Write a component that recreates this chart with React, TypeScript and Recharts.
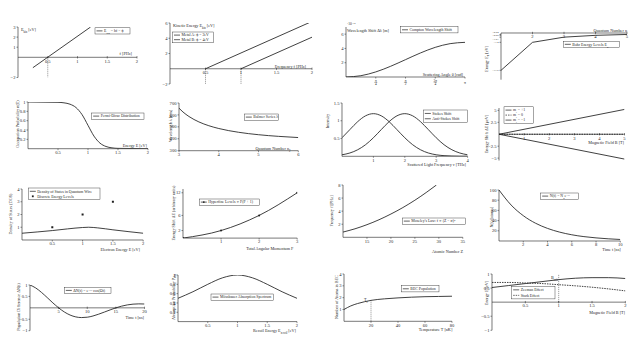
import type { ReactNode } from "react"
import {
  ComposedChart,
  Line,
  Scatter,
  XAxis,
  YAxis,
  ReferenceLine,
  ReferenceDot,
} from "recharts"

const FONT = '"Liberation Serif", "DejaVu Serif", serif'
const INK = "#1f1f1f"
const PAD = 16
const YW = 14
const XH = 9
const TICK_FS = 4.6
const LABEL_FS = 4.2
const LEGEND_FS = 3.9

// ---- data ----

// 1. photoelectric effect
const peFreq = [0.25, 1.22]
const peEnergy = [-1.03, 3.0]
const peXTicks = [0.5, 1, 1.5, 2]
const peYTicks = [-2, 1, 2, 3]

// 2. two metals
const metalAFreq = [0.5, 2]
const metalAEnergy = [0, 6.21]
const metalBFreq = [1, 2]
const metalBEnergy = [0, 4.14]
const metalXTicks = [0.5, 1, 1.5, 2]
const metalYTicks = [-2, 2, 4, 6]

// 3. compton shift (x in rad, y in 1e-12 m)
const comptonAngle = [0, 0.393, 0.785, 1.178, 1.571, 1.963, 2.356, 2.749, 3.1416]
const comptonShift = [0, 0.18, 0.71, 1.5, 2.43, 3.36, 4.15, 4.67, 4.85]
const comptonXTicks = [0.7854, 1.5708, 2.3562, 3.1416]
const comptonXLabels = [["π", "4"], ["π", "2"], ["3π", "4"], ["π", ""]]
const comptonYTicks = [2, 4, 6]

// 4. bohr levels
const bohrN = [1, 2, 3, 4, 5]
const bohrE = [-13.6, -3.4, -1.51, -0.85, -0.54]
const bohrXTicks = [2, 3, 4, 5]
const bohrYLabels = ["−13.6", "−3.4", "−1.51", "−0.85", "−0.54"]
// small vertical nudges so the crowded labels near 0 stay readable
const bohrLabelNudge = [0, 0, 2, 0, -2.7]

// 5. fermi-dirac
const fermiE = [0, 0.5, 0.6, 0.7, 0.8, 0.9, 1, 1.1, 1.2, 1.3, 1.4, 1.5, 2]
const fermiN = [1, 0.993, 0.982, 0.953, 0.881, 0.731, 0.5, 0.269, 0.119, 0.047, 0.018, 0.007, 0]
const fermiXTicks = [0.5, 1, 1.5, 2]
const fermiYTicks = [0.2, 0.4, 0.6, 0.8, 1]

// 6. balmer series
const balmerN = [3, 3.1, 3.25, 3.5, 3.75, 4, 4.5, 5, 5.5, 6]
const balmerLambda = [656.3, 624.6, 586.8, 541.4, 509.5, 486.1, 454.3, 434.0, 420.2, 410.2]
const balmerXTicks = [3, 4, 5, 6]
const balmerYTicks = [300, 400, 500, 600, 700]

// 7. raman
const ramanNu = [0, 0.25, 0.5, 0.75, 1, 1.25, 1.5, 1.75, 2, 2.25, 2.5, 2.75, 3, 3.25, 3.5, 3.75, 4]
const stokes = [0.522, 0.751, 0.975, 1.139, 1.2, 1.139, 0.975, 0.751, 0.522, 0.326, 0.184, 0.093, 0.043, 0.018, 0.007, 0.002, 0.001]
const antiStokes = [0.043, 0.093, 0.184, 0.326, 0.522, 0.751, 0.975, 1.139, 1.2, 1.139, 0.975, 0.751, 0.522, 0.326, 0.184, 0.093, 0.043]
const ramanXTicks = [1, 2, 3, 4]
const ramanYTicks = [0.5, 1, 1.5]

// 8. zeeman splitting
const zeemanB = [0, 5]
const zeemanPlus = [0, 5.2]
const zeemanZero = [0, 0]
const zeemanMinus = [0, -5.2]
const zeemanXTicks = [1, 2, 3, 4, 5]
const zeemanYTicks = [-5, -2.5, 2.5, 5]

// 9. quantum wire DOS
const dosE = [0, 0.25, 0.5, 0.75, 1, 1.1, 1.25, 1.5, 1.75, 2]
const dosValue = [0.53, 0.63, 0.74, 0.87, 0.98, 1.0, 0.95, 0.8, 0.66, 0.53]
const levelE = [0.5, 1, 1.5]
const levelDos = [1, 2, 3]
const dosXTicks = [0.5, 1, 1.5, 2]
const dosYTicks = [1, 2, 3, 4]

// 10. hyperfine
const hfF = [0, 1, 2, 3]
const hfE = [0, 2, 6, 12]
const hfXTicks = [1, 2, 3]
const hfYTicks = [2, 6, 12]

// 11. moseley
const moseleyZ = [10, 12.5, 15, 17.5, 20, 22.5, 25, 27.5, 29.5]
const moseleyF = [0.8, 1.3, 1.93, 2.68, 3.56, 4.55, 5.67, 6.92, 8.0]
const moseleyXTicks = [15, 20, 25, 30, 35]
const moseleyYTicks = [2, 4, 6, 8]

// 12. decay
const decayT = [0, 1, 2, 3, 4, 5, 6, 7, 8, 9, 10]
const decayN = [100, 70.5, 49.7, 35.0, 24.7, 17.4, 12.2, 8.6, 6.1, 4.3, 3.0]
const decayXTicks = [2, 4, 6, 8, 10]
const decayYTicks = [20, 40, 60, 80, 100]

// 13. rabi oscillation
const rabiT = [0, 1, 2, 3, 4, 5, 6, 7, 8, 9, 10, 11, 12, 13, 14, 15, 16, 17, 18, 19, 20]
const rabiDN = [1, 0.87, 0.677, 0.45, 0.216, 0, -0.181, -0.315, -0.396, -0.426, -0.41, -0.357, -0.277, -0.184, -0.089, 0, 0.074, 0.129, 0.162, 0.174, 0.168]
const rabiXTicks = [5, 10, 15, 20]
const rabiYTicks = [-1, -0.5, 0.5, 1]

// 14. mossbauer
const mossE = [0, 0.25, 0.5, 0.75, 1, 1.25, 1.5, 1.75, 2]
const mossP = [0.5, 0.64, 0.8, 0.94, 1, 0.94, 0.8, 0.64, 0.5]
const mossXTicks = [0.5, 1, 1.5, 2]
const mossYTicks = [0.2, 0.4, 0.6, 0.8, 1]

// 15. BEC
const becT = [0, 5, 10, 15, 20, 30, 40, 50, 60, 70, 80]
const becN = [1.0, 1.3, 1.5, 1.65, 1.77, 1.9, 1.98, 2.04, 2.08, 2.1, 2.12]
const becTc = 20
const becXTicks = [20, 40, 60, 80]
const becYTicks = [1, 2, 3, 4]

// 16. zeeman vs stark
const fieldB = [0, 0.25, 0.5, 0.75, 1, 1.25, 1.5, 1.75, 2]
const zeemanE = [0.52, 0.59, 0.66, 0.73, 0.8, 0.85, 0.87, 0.87, 0.84]
const starkE = [0.7, 0.7, 0.68, 0.66, 0.62, 0.58, 0.53, 0.47, 0.4]
const bCrit = 1
const fieldXTicks = [0.5, 1, 1.5, 2]
const fieldYTicks = [-1, -0.5, 0.5, 1]

type Pt = { x: number; y: number }
const zip = (xs: number[], ys: number[]): Pt[] => xs.map((x, i) => ({ x, y: ys[i] }))
const minus = (v: number) => String(v).replace("-", "−")

function midTick(label: string) {
  // eslint-disable-next-line @typescript-eslint/no-explicit-any
  return (p: any) => (
    <g>
      <line x1={p.cx} x2={p.cx} y1={p.cy - 1.2} y2={p.cy + 1.2} stroke={INK} strokeWidth={0.5} />
      <text x={p.cx} y={p.cy + 5.3} textAnchor="middle" fontSize={TICK_FS} fontFamily={FONT} fill={INK}>
        {label}
      </text>
    </g>
  )
}

// eslint-disable-next-line @typescript-eslint/no-explicit-any
function PiTick(props: any) {
  const { x, y, index } = props
  const [num, den] = comptonXLabels[index] ?? ["", ""]
  if (!den)
    return (
      <text x={x} y={y + 4.5} textAnchor="middle" fontSize={3.8} fontFamily={FONT} fill={INK}>
        {num}
      </text>
    )
  return (
    <g fontSize={3.4} fontFamily={FONT} fill={INK}>
      <text x={x} y={y + 2.6} textAnchor="middle">{num}</text>
      <line x1={x - 1.6} x2={x + 1.6} y1={y + 3.4} y2={y + 3.4} stroke={INK} strokeWidth={0.3} />
      <text x={x} y={y + 6.4} textAnchor="middle">{den}</text>
    </g>
  )
}

// eslint-disable-next-line @typescript-eslint/no-explicit-any
function BohrTick(props: any) {
  const { x, y, index } = props
  return (
    <text x={x} y={y + 1 + (bohrLabelNudge[index] ?? 0)} textAnchor="end" fontSize={2.7} fontFamily={FONT} fill={INK}>
      {bohrYLabels[index]}
    </text>
  )
}

interface PanelProps {
  box: [number, number, number, number]
  xDomain: [number, number]
  yDomain: [number, number]
  xTicks: number[]
  yTicks: number[]
  zeroAxis?: boolean
  xTick?: ReactNode
  yTick?: ReactNode
  children?: ReactNode
}

function Panel({ box, xDomain, yDomain, xTicks, yTicks, zeroAxis, xTick, yTick, children }: PanelProps) {
  const [x0, x1, y0, y1] = box
  return (
    <div style={{ position: "absolute", left: x0 - PAD, top: y0 - PAD }}>
      <ComposedChart
        width={x1 - x0 + 2 * PAD}
        height={y1 - y0 + 2 * PAD}
        margin={{ top: PAD, right: PAD, left: PAD - YW, bottom: zeroAxis ? PAD : PAD - XH }}
      >
        <XAxis
          type="number"
          dataKey="x"
          domain={xDomain}
          ticks={xTicks}
          interval={0}
          hide={zeroAxis}
          height={XH}
          allowDataOverflow
          tickSize={1.5}
          tickMargin={0.5}
          tickFormatter={minus}
          tick={xTick ?? { fontSize: TICK_FS, fill: INK, fontFamily: FONT }}
          axisLine={{ stroke: INK, strokeWidth: 0.6 }}
          tickLine={{ stroke: INK, strokeWidth: 0.5 }}
        />
        <YAxis
          type="number"
          dataKey="y"
          domain={yDomain}
          ticks={yTicks}
          interval={0}
          width={YW}
          allowDataOverflow
          tickSize={1.5}
          tickMargin={1}
          tickFormatter={minus}
          tick={yTick ?? { fontSize: TICK_FS, fill: INK, fontFamily: FONT }}
          axisLine={{ stroke: INK, strokeWidth: 0.6 }}
          tickLine={{ stroke: INK, strokeWidth: 0.5 }}
        />
        {zeroAxis && <ReferenceLine y={0} stroke={INK} strokeWidth={0.6} ifOverflow="visible" />}
        {zeroAxis &&
          xTicks.map((t) => (
            <ReferenceDot key={`t${t}`} x={t} y={0} r={0} ifOverflow="visible" shape={midTick(minus(t))} />
          ))}
        {children}
      </ComposedChart>
    </div>
  )
}

const curve = (
  key: string,
  data: Pt[],
  opts: { dash?: string; type?: "linear" | "monotone"; dot?: boolean; w?: number } = {}
) => (
  <Line
    key={key}
    data={data}
    dataKey="y"
    type={opts.type ?? "monotone"}
    stroke={INK}
    strokeWidth={opts.w ?? 0.85}
    strokeDasharray={opts.dash}
    dot={opts.dot ? { r: 1, fill: INK, stroke: "none" } : false}
    activeDot={false}
    isAnimationActive={false}
  />
)

const guide = (key: string, x: number, ya: number, yb: number) => (
  <ReferenceLine
    key={key}
    segment={[{ x, y: ya }, { x, y: yb }]}
    stroke={INK}
    strokeWidth={0.5}
    strokeDasharray="1 1"
    ifOverflow="visible"
  />
)

// eslint-disable-next-line @typescript-eslint/no-explicit-any
const squareShape = (p: any) => <rect x={p.cx - 1} y={p.cy - 1} width={2} height={2} fill={INK} />

const Sub = ({ children }: { children: ReactNode }) => (
  <tspan baselineShift="sub" fontSize="70%">{children}</tspan>
)
const Sup = ({ children }: { children: ReactNode }) => (
  <tspan baselineShift="super" fontSize="70%">{children}</tspan>
)

function Title({ x, y, end, children }: { x: number; y: number; end?: boolean; children: ReactNode }) {
  return (
    <text x={x} y={y} textAnchor={end ? "end" : "start"} fontSize={LABEL_FS} fontFamily={FONT} fill={INK}>
      {children}
    </text>
  )
}

function VTitle({ x, y, children }: { x: number; y: number; children: ReactNode }) {
  return (
    <text
      x={x}
      y={y}
      textAnchor="middle"
      dominantBaseline="central"
      fontSize={LABEL_FS}
      fontFamily={FONT}
      fill={INK}
      transform={`rotate(-90 ${x} ${y})`}
    >
      {children}
    </text>
  )
}

type LegendItem = { label: ReactNode; dash?: string; mark?: "dot" | "square"; noLine?: boolean }

function LegendBox({ x, y, w, items, rowH = 4.6 }: { x: number; y: number; w: number; items: LegendItem[]; rowH?: number }) {
  const h = items.length * rowH + 1.6
  return (
    <g>
      <rect x={x} y={y} width={w} height={h} fill="#fff" stroke={INK} strokeWidth={0.4} />
      {items.map((it, i) => {
        const cy = y + 0.8 + rowH * (i + 0.5)
        return (
          <g key={i}>
            {!it.noLine && (
              <line x1={x + 1.5} x2={x + 7.5} y1={cy} y2={cy} stroke={INK} strokeWidth={0.7} strokeDasharray={it.dash} />
            )}
            {it.mark === "dot" && <circle cx={x + 4.5} cy={cy} r={0.9} fill={INK} />}
            {it.mark === "square" && <rect x={x + 3.6} y={cy - 0.9} width={1.8} height={1.8} fill={INK} />}
            <text x={x + 9} y={cy + 1.3} fontSize={LEGEND_FS} fontFamily={FONT} fill={INK}>
              {it.label}
            </text>
          </g>
        )
      })}
    </g>
  )
}

export default function App() {
  return (
    <div style={{ position: "fixed", left: 0, top: 0, width: 639, height: 360, background: "#fff", overflow: "hidden" }}>
      {/* row 1 */}
      <Panel box={[18, 137, 26.7, 77.2]} xDomain={[0, 2]} yDomain={[-2, 3]} xTicks={peXTicks} yTicks={peYTicks} zeroAxis>
        {guide("g1", 0.5, 0, -2)}
        {curve("pe", zip(peFreq, peEnergy), { type: "linear" })}
      </Panel>
      <Panel box={[170, 312, 23, 84]} xDomain={[0, 2]} yDomain={[-2, 6]} xTicks={metalXTicks} yTicks={metalYTicks} zeroAxis>
        {guide("g2a", 0.5, 0, -2)}
        {guide("g2b", 1, 0, -2)}
        {curve("a", zip(metalAFreq, metalAEnergy), { type: "linear" })}
        {curve("b", zip(metalBFreq, metalBEnergy), { type: "linear" })}
      </Panel>
      <Panel
        box={[346, 465, 27, 77]}
        xDomain={[0, 3.1416]}
        yDomain={[0, 7]}
        xTicks={comptonXTicks}
        yTicks={comptonYTicks}
        xTick={<PiTick />}
      >
        {curve("c", zip(comptonAngle, comptonShift))}
      </Panel>
      <Panel
        box={[501, 627, 33.3, 80]}
        xDomain={[1, 5]}
        yDomain={[-17, 0]}
        xTicks={bohrXTicks}
        yTicks={bohrE}
        yTick={<BohrTick />}
        zeroAxis
      >
        {curve("bohr", zip(bohrN, bohrE), { type: "linear" })}
      </Panel>

      {/* row 2 */}
      <Panel box={[28.3, 148.3, 102, 148.7]} xDomain={[0, 2]} yDomain={[0, 1]} xTicks={fermiXTicks} yTicks={fermiYTicks}>
        {curve("fd", zip(fermiE, fermiN))}
      </Panel>
      <Panel box={[179, 298.3, 103, 150.7]} xDomain={[3, 6]} yDomain={[300, 700]} xTicks={balmerXTicks} yTicks={balmerYTicks}>
        {curve("balmer", zip(balmerN, balmerLambda))}
      </Panel>
      <Panel box={[341.7, 467.3, 103, 156.3]} xDomain={[0, 4]} yDomain={[0, 1.5]} xTicks={ramanXTicks} yTicks={ramanYTicks}>
        {curve("stokes", zip(ramanNu, stokes))}
        {curve("anti", zip(ramanNu, antiStokes))}
      </Panel>
      <Panel box={[498.5, 624, 107.6, 160.1]} xDomain={[0, 5]} yDomain={[-5.5, 5.5]} xTicks={zeemanXTicks} yTicks={zeemanYTicks} zeroAxis>
        {curve("zp", zip(zeemanB, zeemanPlus), { type: "linear" })}
        {curve("z0", zip(zeemanB, zeemanZero), { type: "linear", dash: "1.5 1" })}
        {curve("zm", zip(zeemanB, zeemanMinus), { type: "linear" })}
      </Panel>

      {/* row 3 */}
      <Panel box={[21.5, 142.7, 188.7, 239.7]} xDomain={[0, 2]} yDomain={[0, 4]} xTicks={dosXTicks} yTicks={dosYTicks}>
        {curve("dos", zip(dosE, dosValue))}
        <Scatter data={zip(levelE, levelDos)} dataKey="y" shape={squareShape} isAnimationActive={false} />
      </Panel>
      <Panel box={[182.5, 296.7, 189.2, 238.3]} xDomain={[0, 3]} yDomain={[0, 13]} xTicks={hfXTicks} yTicks={hfYTicks}>
        {curve("hf", zip(hfF, hfE), { dot: true })}
      </Panel>
      <Panel box={[342.5, 462.3, 185, 237.3]} xDomain={[10, 35]} yDomain={[0, 8]} xTicks={moseleyXTicks} yTicks={moseleyYTicks}>
        {curve("mos", zip(moseleyZ, moseleyF))}
      </Panel>
      <Panel box={[498.7, 620, 189.7, 240.7]} xDomain={[0, 10]} yDomain={[0, 100]} xTicks={decayXTicks} yTicks={decayYTicks}>
        {curve("decay", zip(decayT, decayN))}
      </Panel>

      {/* row 4 */}
      <Panel box={[29.5, 144, 285, 330.7]} xDomain={[0, 20]} yDomain={[-1, 1]} xTicks={rabiXTicks} yTicks={rabiYTicks} zeroAxis>
        {curve("rabi", zip(rabiT, rabiDN))}
      </Panel>
      <Panel box={[178.3, 297.3, 274.7, 321.3]} xDomain={[0, 2]} yDomain={[0, 1]} xTicks={mossXTicks} yTicks={mossYTicks}>
        {curve("moss", zip(mossE, mossP))}
      </Panel>
      <Panel box={[344.3, 452.3, 274, 321.3]} xDomain={[0, 80]} yDomain={[0, 4]} xTicks={becXTicks} yTicks={becYTicks}>
        {guide("tc", becTc, 0, 1.77)}
        {curve("bec", zip(becT, becN))}
      </Panel>
      <Panel box={[492.3, 625.7, 274, 330.3]} xDomain={[0, 2]} yDomain={[-1, 1]} xTicks={fieldXTicks} yTicks={fieldYTicks} zeroAxis>
        {guide("bc", bCrit, 0, 1)}
        {curve("zee", zip(fieldB, zeemanE))}
        {curve("stark", zip(fieldB, starkE), { dash: "1.5 1" })}
      </Panel>

      {/* titles and legends */}
      <svg width={639} height={360} style={{ position: "absolute", left: 0, top: 0, pointerEvents: "none" }}>
        {/* 1 */}
        <Title x={21} y={31}>E<Sub>kin</Sub> [eV]</Title>
        <Title x={132} y={55} end>f [PHz]</Title>
        <LegendBox x={95} y={27.8} w={35} items={[{ label: <>E<Sub>kin</Sub> = hf − ϕ</> }]} />
        {/* 2 */}
        <Title x={173} y={27}>Kinetic Energy E<Sub>kin</Sub> [eV]</Title>
        <Title x={306} y={68} end>Frequency f [PHz]</Title>
        <LegendBox x={172.5} y={32} w={41} items={[{ label: "Metal A: ϕ = 2eV" }, { label: "Metal B: ϕ = 4eV" }]} />
        {/* 3 */}
        <text x={347} y={24.5} fontSize={3.5} fontFamily={FONT} fill={INK}>
          ·10<Sup>−12</Sup>
        </text>
        <Title x={347} y={32}>Wavelength Shift Δλ [m]</Title>
        <Title x={463} y={75.8} end>Scattering Angle θ [rad]</Title>
        <LegendBox x={400.5} y={26.7} w={57.5} items={[{ label: "Compton Wavelength Shift" }]} />
        {/* 4 */}
        <Title x={627} y={31.5} end>Quantum Number n</Title>
        <VTitle x={486} y={59}>Energy E<Sub>n</Sub> [eV]</VTitle>
        <LegendBox x={563.3} y={41.2} w={56} items={[{ label: <>Bohr Energy Levels E<Sub>n</Sub></> }]} />
        {/* 5 */}
        <Title x={147} y={147} end>Energy E [eV]</Title>
        <VTitle x={17} y={124}>Occupation Probability n(E)</VTitle>
        <LegendBox x={91.7} y={113} w={52.3} items={[{ label: "Fermi-Dirac Distribution" }]} />
        {/* 6 */}
        <Title x={290.5} y={150} end>Quantum Number n<Sub>2</Sub></Title>
        <VTitle x={170.5} y={126}>Wavelength λ [nm]</VTitle>
        <LegendBox x={244.3} y={114} w={34} items={[{ label: "Balmer Series λ" }]} />
        {/* 7 */}
        <Title x={466} y={166.3} end>Scattered Light Frequency ν [THz]</Title>
        <VTitle x={327.5} y={121}>Intensity</VTitle>
        <LegendBox x={423.3} y={110} w={44.5} rowH={5.3} items={[{ label: "Stokes Shift" }, { label: "Anti-Stokes Shift" }]} />
        {/* 8 */}
        <Title x={624} y={144} end>Magnetic Field B [T]</Title>
        <VTitle x={486} y={134}>Energy Shift ΔE [μeV]</VTitle>
        <LegendBox
          x={504}
          y={106.8}
          w={29.5}
          rowH={5}
          items={[
            { label: <>m<Sub>l</Sub> = +1</> },
            { label: <>m<Sub>l</Sub> = 0</>, dash: "1.5 1" },
            { label: <>m<Sub>l</Sub> = −1</> },
          ]}
        />
        {/* 9 */}
        <Title x={140} y={250.5} end>Electron Energy E [eV]</Title>
        <VTitle x={10.5} y={214}>Density of States (DOS)</VTitle>
        <LegendBox
          x={28.3}
          y={188}
          w={71.7}
          rowH={5}
          items={[{ label: "Density of States in Quantum Wire" }, { label: "Discrete Energy Levels", noLine: true, mark: "square" }]}
        />
        {/* 10 */}
        <Title x={293.3} y={249.7} end>Total Angular Momentum F</Title>
        <VTitle x={173.7} y={213}>Energy Shift ΔE (arbitrary units)</VTitle>
        <LegendBox x={199.3} y={199} w={60} items={[{ label: "Hyperfine Levels ∝ F(F + 1)", mark: "dot" }]} />
        {/* 11 */}
        <Title x={463} y={252.5} end>Atomic Number Z</Title>
        <VTitle x={331} y={211}>Frequency f [PHz]</VTitle>
        <LegendBox x={402.3} y={218} w={63.5} items={[{ label: <>Moseley's Law: f ∝ (Z − σ)<Sup>2</Sup></> }]} />
        {/* 12 */}
        <Title x={620.7} y={250.5} end>Time t [ns]</Title>
        <VTitle x={491.7} y={217}>N(t) [atoms]</VTitle>
        <LegendBox x={540.7} y={193} w={37.6} items={[{ label: <>N(t) = N<Sub>0</Sub>e<Sup>−λt</Sup></> }]} />
        {/* 13 */}
        <Title x={144} y={318.5} end>Time t [ns]</Title>
        <VTitle x={18.7} y={307}>Population Difference ΔN(t)</VTitle>
        <LegendBox x={64.3} y={287.3} w={46.7} items={[{ label: <>ΔN(t) = e<Sup>−t/τ</Sup> cos(Ωt)</> }]} />
        {/* 14 */}
        <Title x={296} y={332} end>Recoil Energy E<Sub>recoil</Sub> [eV]</Title>
        <VTitle x={173} y={297}>Absorption Probability P<Sub>abs</Sub></VTitle>
        <LegendBox x={211} y={294} w={62.3} items={[{ label: "Mössbauer Absorption Spectrum" }]} />
        {/* 15 */}
        <Title x={452.3} y={331} end>Temperature T [nK]</Title>
        <VTitle x={336.5} y={297}>Number of Atoms in BEC</VTitle>
        <LegendBox x={401.3} y={285.7} w={37.7} items={[{ label: "BEC Population" }]} />
        <Title x={364} y={301.3}>T<Sub>c</Sub></Title>
        {/* 16 */}
        <Title x={625} y={313.5} end>Magnetic Field B [T]</Title>
        <VTitle x={486.5} y={293}>Energy E [eV]</VTitle>
        <LegendBox
          x={511.7}
          y={286.3}
          w={43.3}
          rowH={5.5}
          items={[{ label: "Zeeman Effect" }, { label: "Stark Effect", dash: "1.5 1" }]}
        />
        <Title x={551} y={278.5}>B<Sub>crit</Sub></Title>
      </svg>
    </div>
  )
}
